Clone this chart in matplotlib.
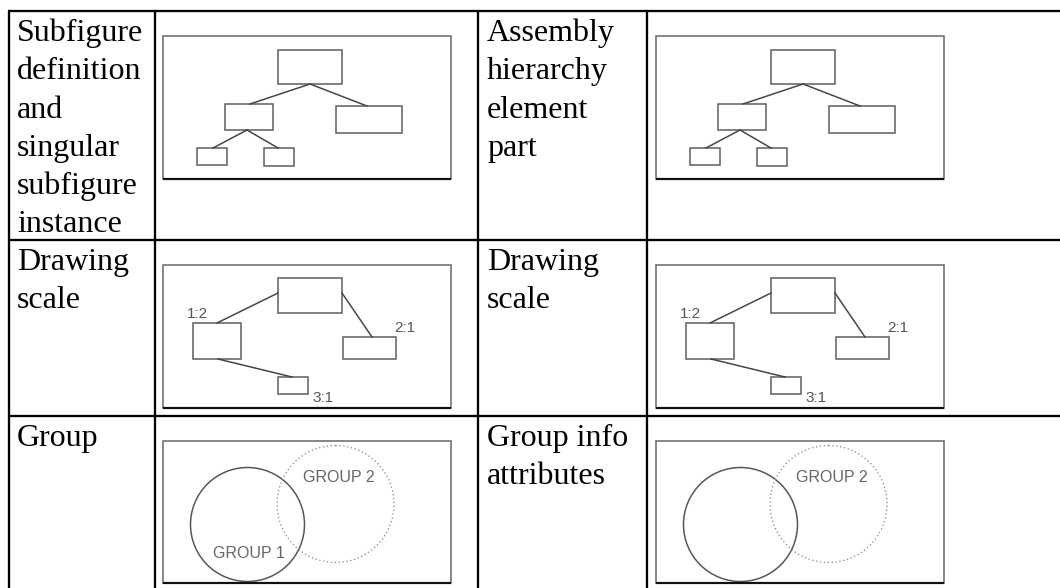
import matplotlib
matplotlib.use("Agg")
import matplotlib.pyplot as plt
from matplotlib.patches import Rectangle, Circle

W, H = 1060, 588

# ---- table data ----
col_lines = [9, 155, 478, 647]
row_lines = [11, 240, 416]
left_labels = [["Subfigure", "definition", "and", "singular", "subfigure", "instance"],
               ["Drawing", "scale"],
               ["Group"]]
right_labels = [["Assembly", "hierarchy", "element", "part"],
                ["Drawing", "scale"],
                ["Group info", "attributes"]]

# ---- diagram data (local coordinates inside each picture) ----
img_origins_left = [(163, 36, 288, 143), (163, 265, 288, 143), (163, 441, 288, 142)]
img_dx = 493

tree_boxes = [(115, 14, 179, 48), (62, 68, 110, 94), (173, 70, 239, 97),
              (34, 112, 64, 129), (101, 112, 131, 130)]
tree_edges = [((147, 48), (87, 68)), ((147, 48), (204, 70)),
              ((84, 94), (50, 112)), ((84, 94), (115, 112))]

scale_boxes = [(115, 13, 179, 48), (30, 58, 78, 94), (180, 72, 233, 94), (115, 112, 145, 129)]
scale_edges = [((115, 28), (54, 58)), ((179, 28), (209, 72)), ((55, 94), (129, 112))]
scale_labels = ["1:2", "2:1", "3:1"]
scale_label_pos = [(34, 53), (242, 67), (160, 137)]

group_solid = (84.5, 83.5, 57)
group_dotted = (172.5, 63, 58.5)
group_labels = ["GROUP 2", "GROUP 1"]
group_label_pos = [(176, 37), (86, 113)]

fig = plt.figure(figsize=(W / 100, H / 100), dpi=100)
ax = fig.add_axes([0, 0, 1, 1])
ax.set_xlim(0, W)
ax.set_ylim(H, 0)
ax.axis("off")

PX = 72 / 100  # points per pixel
# table lines
for x in col_lines:
    ax.plot([x, x], [row_lines[0], H], color="black", lw=2.3 * PX, solid_capstyle="butt")
for y in row_lines:
    ax.plot([col_lines[0] - 1, W], [y, y], color="black", lw=2.3 * PX, solid_capstyle="butt")

serif = ["Liberation Serif", "DejaVu Serif"]
FS = 23
LS = 38.3
for r, top in enumerate(row_lines):
    for i, t in enumerate(left_labels[r]):
        ax.text(17, top + 30 + i * LS, t, fontsize=FS, family=serif, va="baseline", ha="left")
    for i, t in enumerate(right_labels[r]):
        ax.text(487, top + 30 + i * LS, t, fontsize=FS, family=serif, va="baseline", ha="left")

box_col = "#5a5a5a"
lw_box = 1.5 * PX


def frame(x0, y0, w, h):
    ax.add_patch(Rectangle((x0, y0), w, h, fill=False, ec="#6e6e6e", lw=1.6 * PX))
    ax.plot([x0, x0 + w], [y0 + h, y0 + h], color="#111111", lw=2.2 * PX, solid_capstyle="butt")


for dx in (0, img_dx):
    # row 1: tree
    x0, y0, w, h = img_origins_left[0]
    x0 += dx
    frame(x0, y0, w, h)
    for (a, b, c, d) in tree_boxes:
        ax.add_patch(Rectangle((x0 + a, y0 + b), c - a, d - b, fill=False, ec=box_col, lw=lw_box))
    for (p, q) in tree_edges:
        ax.plot([x0 + p[0], x0 + q[0]], [y0 + p[1], y0 + q[1]], color="#444444", lw=lw_box)

    # row 2: scales
    x0, y0, w, h = img_origins_left[1]
    x0 += dx
    frame(x0, y0, w, h)
    for (a, b, c, d) in scale_boxes:
        ax.add_patch(Rectangle((x0 + a, y0 + b), c - a, d - b, fill=False, ec=box_col, lw=lw_box))
    for (p, q) in scale_edges:
        ax.plot([x0 + p[0], x0 + q[0]], [y0 + p[1], y0 + q[1]], color="#444444", lw=lw_box)
    for t, (lx, ly) in zip(scale_labels, scale_label_pos):
        ax.text(x0 + lx, y0 + ly, t, fontsize=11, family=["Liberation Sans"], color="#555555",
                ha="center", va="baseline")

    # row 3: groups
    x0, y0, w, h = img_origins_left[2]
    x0 += dx
    frame(x0, y0, w, h)
    cx, cy, rr = group_solid
    ax.add_patch(Circle((x0 + cx, y0 + cy), rr, fill=False, ec="#555555", lw=1.5 * PX))
    cx, cy, rr = group_dotted
    ax.add_patch(Circle((x0 + cx, y0 + cy), rr, fill=False, ec="#8a8a8a", lw=1.3 * PX,
                        linestyle=(0, (1, 2))))
    labels = group_labels if dx == 0 else group_labels[:1]
    for t, (lx, ly) in zip(labels, group_label_pos):
        ax.text(x0 + lx, y0 + ly, t, fontsize=11.5, family=["Liberation Sans"], color="#666666",
                ha="center", va="center")

fig.savefig("out.png", dpi=100)
